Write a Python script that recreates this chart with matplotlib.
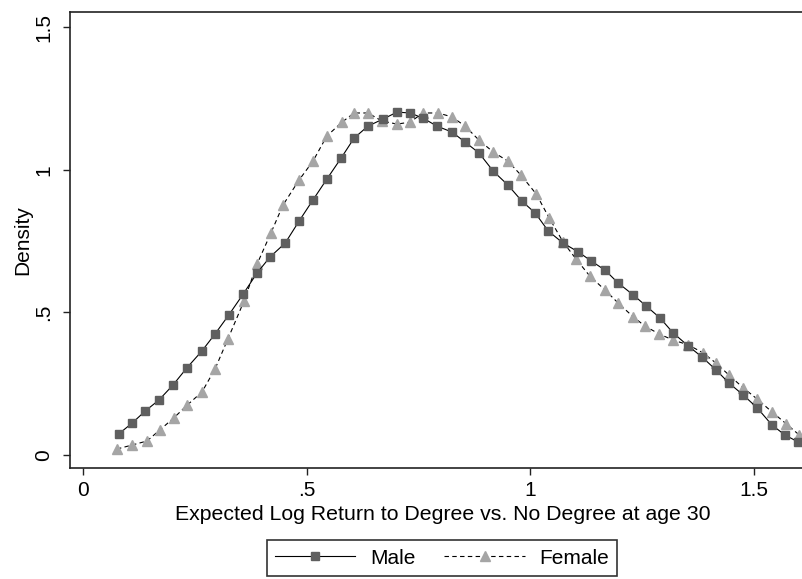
import matplotlib
matplotlib.use("Agg")
import matplotlib.pyplot as plt
from matplotlib.lines import Line2D

plt.rcParams["font.family"] = ["Liberation Sans", "DejaVu Sans"]

# kernel density estimates
male_x = [0.080, 0.110, 0.139, 0.170, 0.201, 0.232, 0.266, 0.295, 0.326, 0.358,
          0.389, 0.418, 0.452, 0.483, 0.514, 0.545, 0.577, 0.606, 0.637, 0.671,
          0.702, 0.731, 0.760, 0.791, 0.825, 0.854, 0.885, 0.917, 0.950, 0.981,
          1.011, 1.040, 1.073, 1.107, 1.136, 1.167, 1.196, 1.230, 1.259, 1.290,
          1.319, 1.353, 1.384, 1.415, 1.444, 1.476, 1.507, 1.540, 1.569, 1.598]
male_y = [0.074, 0.112, 0.154, 0.193, 0.245, 0.305, 0.365, 0.424, 0.491, 0.564,
          0.638, 0.694, 0.743, 0.820, 0.894, 0.967, 1.041, 1.111, 1.153, 1.178,
          1.202, 1.199, 1.181, 1.153, 1.132, 1.097, 1.059, 0.995, 0.946, 0.890,
          0.848, 0.785, 0.743, 0.712, 0.680, 0.648, 0.603, 0.561, 0.522, 0.480,
          0.428, 0.382, 0.343, 0.298, 0.252, 0.210, 0.165, 0.105, 0.070, 0.046]

female_x = [0.076, 0.110, 0.143, 0.172, 0.203, 0.233, 0.266, 0.295, 0.324, 0.360,
            0.389, 0.420, 0.447, 0.483, 0.514, 0.545, 0.579, 0.606, 0.637, 0.668,
            0.702, 0.731, 0.760, 0.794, 0.825, 0.854, 0.885, 0.917, 0.950, 0.979,
            1.013, 1.042, 1.073, 1.102, 1.133, 1.167, 1.196, 1.230, 1.256, 1.288,
            1.319, 1.353, 1.386, 1.415, 1.444, 1.476, 1.507, 1.540, 1.572, 1.601]
female_y = [0.021, 0.035, 0.049, 0.088, 0.130, 0.175, 0.221, 0.301, 0.407, 0.540,
            0.669, 0.778, 0.876, 0.964, 1.030, 1.118, 1.167, 1.199, 1.199, 1.171,
            1.160, 1.167, 1.199, 1.199, 1.185, 1.153, 1.104, 1.062, 1.030, 0.981,
            0.915, 0.831, 0.747, 0.687, 0.627, 0.578, 0.533, 0.484, 0.452, 0.424,
            0.403, 0.386, 0.358, 0.322, 0.280, 0.235, 0.196, 0.151, 0.109, 0.070]

xticks = [0, 0.5, 1, 1.5]
xtick_labels = ["0", ".5", "1", "1.5"]
yticks = [0, 0.5, 1, 1.5]
ytick_labels = ["0", ".5", "1", "1.5"]

W, H = 802, 579
fig = plt.figure(figsize=(W / 100, H / 100), dpi=100)
ax = fig.add_axes([70 / W, 111 / H, (806 - 70) / W, (468 - 12) / H])

ax.plot(male_x, male_y, color="black", lw=0.8, ls="-", marker="s",
        ms=6.3, mfc="#5f5f5f", mec="#5f5f5f", zorder=3)
ax.plot(female_x, female_y, color="black", lw=0.8, ls=(0, (4, 3)), marker="^",
        ms=7.3, mfc="#a5a5a5", mec="#a5a5a5", zorder=2)

ax.set_xlim(-0.029, 1.616)
ax.set_ylim(-0.0456, 1.553)
ax.set_xticks(xticks)
ax.set_xticklabels(xtick_labels)
ax.set_yticks(yticks)
ax.set_yticklabels(ytick_labels, rotation=90, va="center")
ax.tick_params(direction="out", length=5, width=1, labelsize=15, color="#222222")
ax.tick_params(axis="x", pad=4)
ax.tick_params(axis="y", pad=7)

for s in ["left", "top", "bottom"]:
    ax.spines[s].set_linewidth(1.2)
    ax.spines[s].set_color("#222222")
ax.spines["right"].set_visible(False)

ax.set_ylabel("Density", fontsize=15)
ax.yaxis.set_label_coords(-(70 - 32) / (806 - 70), 0.5)
# axis title sits right under the tick labels, as in the reference
ax.set_xlabel("Expected Log Return to Degree vs. No Degree at age 30", fontsize=15.3)
ax.xaxis.set_label_coords((443 - 70) / (806 - 70), -(505 - 468) / (468 - 12))

handles = [
    Line2D([], [], color="black", lw=0.8, ls="-", marker="s", ms=6.3,
           mfc="#5f5f5f", mec="#5f5f5f"),
    Line2D([], [], color="black", lw=0.8, ls=(0, (4, 3)), marker="^", ms=7.3,
           mfc="#a5a5a5", mec="#a5a5a5"),
]
leg = fig.legend(handles, ["Male", "Female"], loc="center",
                 bbox_to_anchor=(442 / W, 1 - 558 / H), ncol=2, fontsize=15,
                 frameon=True, fancybox=False, edgecolor="black",
                 handlelength=3.85, handletextpad=0.7, columnspacing=1.4,
                 borderpad=0.4, markerscale=1.0)
leg.get_frame().set_linewidth(1.2)

fig.savefig("out.png", dpi=100)
